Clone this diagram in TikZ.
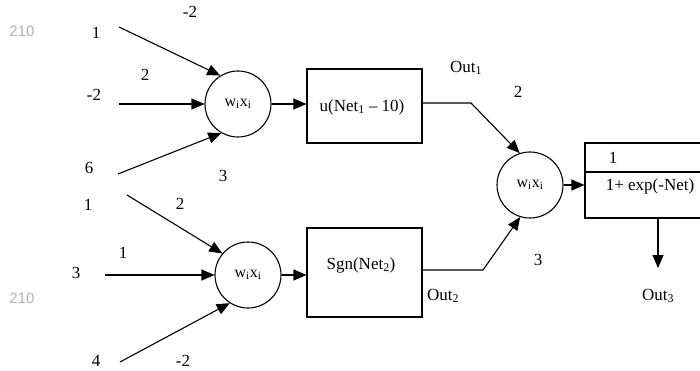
\documentclass[tikz,border=0pt]{standalone}
\usepackage{fontspec}
\setmainfont{Liberation Serif}
\newfontfamily\wmfont{Liberation Sans}
\usetikzlibrary{arrows.meta}
\tikzset{
  lbl/.style={inner sep=0pt, font=\fontsize{17}{20}\selectfont},
  wm/.style={inner sep=0pt, text=black!30, font=\wmfont\fontsize{15}{17}\selectfont},
  neuron/.style={circle, draw, line width=1.1pt, minimum size=66pt, inner sep=0pt, font=\fontsize{16}{18}\selectfont},
  box/.style={rectangle, draw, line width=1.1pt, inner sep=0pt},
  wire/.style={line width=1.1pt},
  arr/.style={wire, -{Triangle[length=13pt,width=11pt]}},
}
\begin{document}
\begin{tikzpicture}[x=1pt,y=-1pt]
\useasboundingbox (0,0) rectangle (700,371);
\fill[white] (0,0) rectangle (700,371);
% watermarks
\node[wm] (wm1) at (22,31) {210};
\node[wm] (wm2) at (22,298) {210};
% neurons
\node[neuron] (c1) at (238,104) {w\textsubscript{i}x\textsubscript{i}};
\node[neuron] (c2) at (248,275) {w\textsubscript{i}x\textsubscript{i}};
\node[neuron] (c3) at (530,185) {w\textsubscript{i}x\textsubscript{i}};
% boxes
\node[box, minimum width=115pt, minimum height=74pt] (b1) at (364.5,106) {};
\node[lbl] (t1) at (362,107) {u(Net\textsubscript{1} -- 10)};
\node[box, minimum width=115pt, minimum height=89pt] (b2) at (364.5,272.5) {};
\node[lbl] (t2) at (361,265) {Sgn(Net\textsubscript{2})};
\node[box, minimum width=130pt, minimum height=75pt] (b3) at (650,180.5) {};
\draw[line width=2.6pt] (b3.west |- 0,172) -- (b3.east |- 0,172);
\node[lbl] (t3a) at (613,158) {1};
\node[lbl] (t3b) at (650,186) {1+ exp(-Net)};
% input labels top
\node[lbl] (w1) at (190,12) {-2};
\node[lbl] (x1) at (96,33) {1};
\node[lbl] (w2) at (145,75) {2};
\node[lbl] (x2) at (94,95) {-2};
\node[lbl] (x3) at (89,168) {6};
\node[lbl] (w3) at (223,176) {3};
% input labels bottom
\node[lbl] (x4) at (88,205) {1};
\node[lbl] (w4) at (180,204) {2};
\node[lbl] (w5) at (123,253) {1};
\node[lbl] (x5) at (76,273) {3};
\node[lbl] (x6) at (96,361) {4};
\node[lbl] (w6) at (183,361) {-2};
% outputs
\node[lbl] (o1) at (466,68) {Out\textsubscript{1}};
\node[lbl] (w7) at (518,92) {2};
\node[lbl] (w8) at (538,260) {3};
\node[lbl] (o2) at (443,296) {Out\textsubscript{2}};
\node[lbl] (o3) at (658,296) {Out\textsubscript{3}};
% start coordinates
\coordinate (s1) at (119,27);
\coordinate (s2) at (119,104);
\coordinate (s3) at (118,174);
\coordinate (s4) at (127,195);
\coordinate (s5) at (105,275);
\coordinate (s6) at (120,362);
\coordinate (k1) at (471,103);
\coordinate (k2) at (483,270);
\coordinate (e3) at (658,268);
% input connectors
\draw[arr] (s1) -- (c1.122);
\draw[arr] (s2) -- (c1.west);
\draw[arr] (s3) -- (c1.240);
\draw[arr] (s4) -- (c2.140);
\draw[arr] (s5) -- (c2.west);
\draw[arr] (s6) -- (c2.237);
% neuron to box
\draw[arr] (c1.east) -- (c1.east -| b1.west);
\draw[arr] (c2.east) -- (c2.east -| b2.west);
% boxes to output neuron
\draw[arr] (b1.east |- k1) -- (k1) -- (c3.108);
\draw[arr] (b2.east |- k2) -- (k2) -- (c3.253);
\draw[arr] (c3.east) -- (c3.east -| b3.west);
\draw[arr] (b3.south -| e3) -- (e3);
\end{tikzpicture}
\end{document}
